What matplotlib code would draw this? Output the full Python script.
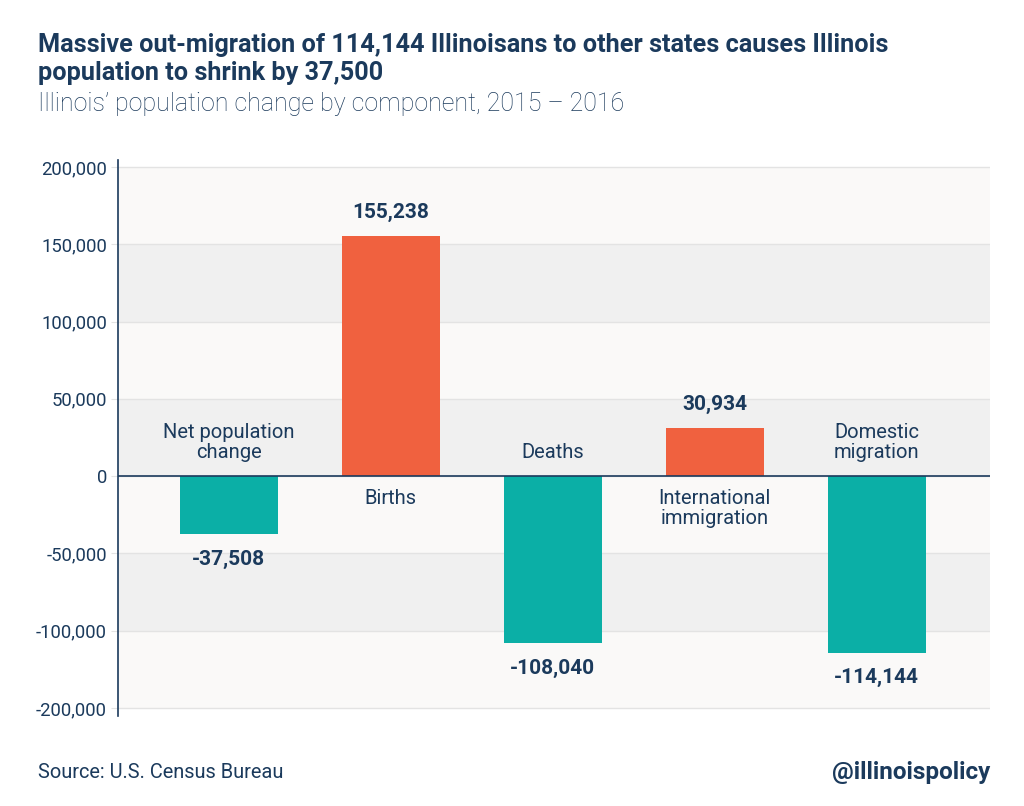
import matplotlib
matplotlib.use("Agg")
import matplotlib.pyplot as plt

categories = ["Net population\nchange", "Births", "Deaths", "International\nimmigration", "Domestic\nmigration"]
values = [-37508, 155238, -108040, 30934, -114144]
value_labels = ["-37,508", "155,238", "-108,040", "30,934", "-114,144"]
tick_values = [200000, 150000, 100000, 50000, 0, -50000, -100000, -150000]
tick_labels = ["200,000", "150,000", "100,000", "50,000", "0", "-50,000", "-100,000", "-200,000"]

title = "Massive out-migration of 114,144 Illinoisans to other states causes Illinois\npopulation to shrink by 37,500"
subtitle = "Illinois\u2019 population change by component, 2015 \u2013 2016"
source = "Source: U.S. Census Bureau"
handle = "@illinoispolicy"

NAVY = "#1b3a5c"
ORANGE = "#f0613f"
TEAL = "#0bafa6"
LIGHT = "#faf9f8"
GRAY = "#f0f0f0"
GRID = "#e3e3e3"

plt.rcParams['font.family'] = ['Roboto', 'DejaVu Sans']

fig = plt.figure(figsize=(10.24, 8.06), dpi=100)
ax = fig.add_axes([118/1024, 1-716/806, (990-118)/1024, (716-160)/806])

# bands
for i in range(len(tick_values) - 1):
    hi, lo = tick_values[i], tick_values[i+1]
    ax.axhspan(lo, hi, color=(GRAY if i % 2 == 1 else LIGHT), zorder=0, lw=0)
for t in tick_values:
    ax.axhline(t, color=GRID, lw=1, zorder=1)

x = list(range(len(categories)))
colors = [ORANGE if v > 0 else TEAL for v in values]
ax.bar(x, values, width=0.605, color=colors, zorder=2)
ax.axhline(0, color=NAVY, lw=1.2, zorder=3)

for xi, v, lab, cat in zip(x, values, value_labels, categories):
    if v > 0:
        ax.annotate(lab, (xi, v), xytext=(0, 17), textcoords="offset points",
                    ha="center", va="center", fontsize=15, fontweight="bold", color=NAVY)
        ax.annotate(cat, (xi, 0), xytext=(0, -9), textcoords="offset points",
                    ha="center", va="top", fontsize=14.5, color=NAVY, linespacing=1.1)
    else:
        ax.annotate(lab, (xi, v), xytext=(0, -18), textcoords="offset points",
                    ha="center", va="center", fontsize=15, fontweight="bold", color=NAVY)
        ax.annotate(cat, (xi, 0), xytext=(0, 10), textcoords="offset points",
                    ha="center", va="bottom", fontsize=14.5, color=NAVY, linespacing=1.1)

ax.set_xlim(-0.685, 4.70)
ax.set_ylim(-155200, 204500)
ax.set_yticks(tick_values)
ax.set_yticklabels(tick_labels, fontsize=13.3, color=NAVY)
ax.tick_params(axis="y", length=5, color=GRID, pad=3)
ax.set_xticks([])
for s in ["top", "right", "bottom"]:
    ax.spines[s].set_visible(False)
ax.spines["left"].set_color(NAVY)
ax.spines["left"].set_linewidth(1.2)
ax.set_facecolor("white")

fig.text(38/1024, 1-45/806, title.split("\n")[0], ha="left", va="center", fontsize=18.2,
         fontweight="bold", color=NAVY)
fig.text(38/1024, 1-73/806, title.split("\n")[1], ha="left", va="center", fontsize=18.2,
         fontweight="bold", color=NAVY)
fig.text(38/1024, 1-104/806, subtitle, ha="left", va="center", fontsize=18, fontweight="light",
         color=NAVY)
fig.text(38/1024, 1-773/806, source, ha="left", va="center", fontsize=14.4, color=NAVY)
fig.text(990/1024, 1-773/806, handle, ha="right", va="center", fontsize=17.5, fontweight="bold",
         color=NAVY)

fig.savefig("out.png", dpi=100)
